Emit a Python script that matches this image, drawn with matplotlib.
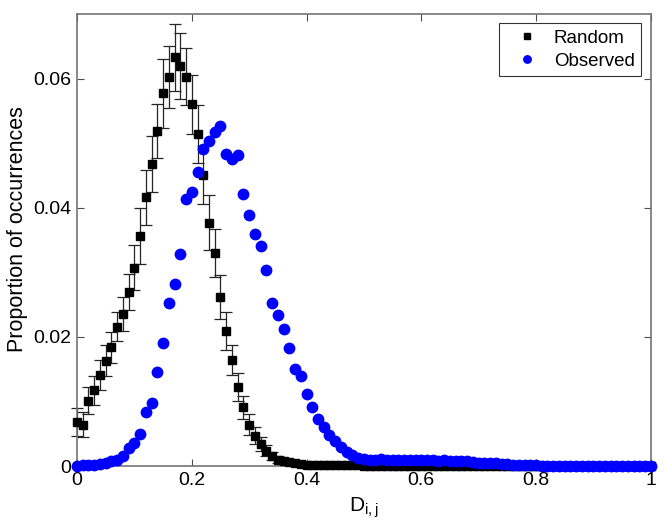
import numpy as np
import matplotlib
matplotlib.use("Agg")
import matplotlib.pyplot as plt

plt.rcParams['font.family'] = ['Liberation Sans', 'DejaVu Sans']
plt.rcParams['mathtext.fontset'] = 'custom'
plt.rcParams['mathtext.rm'] = 'Liberation Sans'
plt.rcParams['mathtext.it'] = 'Liberation Sans:italic'

# D_{i,j} bins (0 .. 1 in steps of 0.01)
d_bins = np.round(np.arange(0, 101) * 0.01, 2)

random_vals = [
    0.0068, 0.0064, 0.0101, 0.0117, 0.0141, 0.0163, 0.0184, 0.0216, 0.0235, 0.0270,
    0.0307, 0.0356, 0.0416, 0.0468, 0.0519, 0.0577, 0.0603, 0.0633, 0.0620, 0.0603,
    0.0560, 0.0514, 0.0451, 0.0377, 0.0330, 0.0262, 0.0209, 0.0164, 0.0122, 0.0091,
    0.0064, 0.0047, 0.0034, 0.0024, 0.0016, 0.0010, 0.0008, 0.0006, 0.0004, 0.0003,
    0.0002, 0.0002, 0.0001, 0.0001, 0.0001, 0.0001, 0.0001, 0.0001, 0.0001, 0.0001,
] + [0.0] * 51

random_err = [
    0.0022, 0.0019, 0.0021, 0.0023, 0.0023, 0.0024, 0.0024, 0.0023, 0.0026, 0.0028,
    0.0035, 0.0043, 0.0043, 0.0043, 0.0042, 0.0053, 0.0048, 0.0052, 0.0051, 0.0044,
    0.0046, 0.0045, 0.0045, 0.0042, 0.0037, 0.0034, 0.0030, 0.0023, 0.0022, 0.0018,
    0.0016, 0.0013, 0.0011, 0.0008, 0.0006, 0.0005, 0.0004, 0.0003, 0.0002, 0.0002,
    0.0001,
] + [0.0] * 60

observed_vals = [
    0.0000, 0.0001, 0.0001, 0.0002, 0.0003, 0.0004, 0.0007, 0.0009, 0.0016, 0.0028,
    0.0035, 0.0050, 0.0084, 0.0097, 0.0146, 0.0190, 0.0252, 0.0282, 0.0329, 0.0413,
    0.0425, 0.0455, 0.0491, 0.0503, 0.0517, 0.0527, 0.0483, 0.0476, 0.0482, 0.0422,
    0.0389, 0.0360, 0.0341, 0.0304, 0.0253, 0.0234, 0.0212, 0.0183, 0.0151, 0.0140,
    0.0111, 0.0092, 0.0073, 0.0060, 0.0048, 0.0039, 0.0030, 0.0022, 0.0017, 0.0013,
    0.0011, 0.0009, 0.0010, 0.0011, 0.0010, 0.0010, 0.0009, 0.0010, 0.0009, 0.0009,
    0.0010, 0.0009, 0.0009, 0.0008, 0.0009, 0.0008, 0.0008, 0.0007, 0.0007, 0.0006,
    0.0005, 0.0005, 0.0004, 0.0004, 0.0003, 0.0003, 0.0002, 0.0002, 0.0002, 0.0001,
    0.0001,
] + [0.0] * 20

x_ticks = [0, 0.2, 0.4, 0.6, 0.8, 1]
x_tick_labels = ['0', '0.2', '0.4', '0.6', '0.8', '1']
y_ticks = [0, 0.02, 0.04, 0.06]
y_tick_labels = ['0', '0.02', '0.04', '0.06']

fig = plt.figure(figsize=(6.64, 5.28), dpi=100)
ax = fig.add_axes([0.116, 0.1174, 0.864, 0.8561])

x = np.array(d_bins)
rv = np.array(random_vals)
re = np.array(random_err)
ov = np.array(observed_vals)

mask = re > 0
ax.errorbar(x[mask], rv[mask], yerr=re[mask], fmt='none', ecolor='0.15',
            elinewidth=0.9, capsize=4.5, capthick=0.9, zorder=2, clip_on=False)
ax.plot(x, rv, 's', color='black', markersize=5.5, label='Random', zorder=3, clip_on=False)
ax.plot(x, ov, 'o', color='#0000ff', markersize=8.5, markeredgewidth=0,
        label='Observed', zorder=4, clip_on=False)

ax.set_xlim(0, 1)
ax.set_ylim(0, 0.07)
ax.set_xticks(x_ticks)
ax.set_xticklabels(x_tick_labels)
ax.set_yticks(y_ticks)
ax.set_yticklabels(y_tick_labels)
ax.tick_params(direction='in', length=5, width=0.8, top=True, right=True,
               labelsize=14, color='0.3', pad=4)
for s in ax.spines.values():
    s.set_color('0.45')
    s.set_linewidth(1.2)

ax.set_xlabel(r'D$_{\mathrm{i,j}}$', fontsize=15, labelpad=5)
ax.set_ylabel('Proportion of occurrences', fontsize=15.5, labelpad=6)
ax.yaxis.set_label_coords(-0.085, 0.525)

leg = ax.legend(loc='upper right', fontsize=13.5, frameon=True, fancybox=False,
                edgecolor='black', borderpad=0.35, handlelength=2.3,
                handletextpad=0.3, borderaxespad=0.5, markerscale=0.75,
                labelspacing=0.3)
leg.get_frame().set_linewidth(0.8)

fig.savefig('out.png', dpi=100)
